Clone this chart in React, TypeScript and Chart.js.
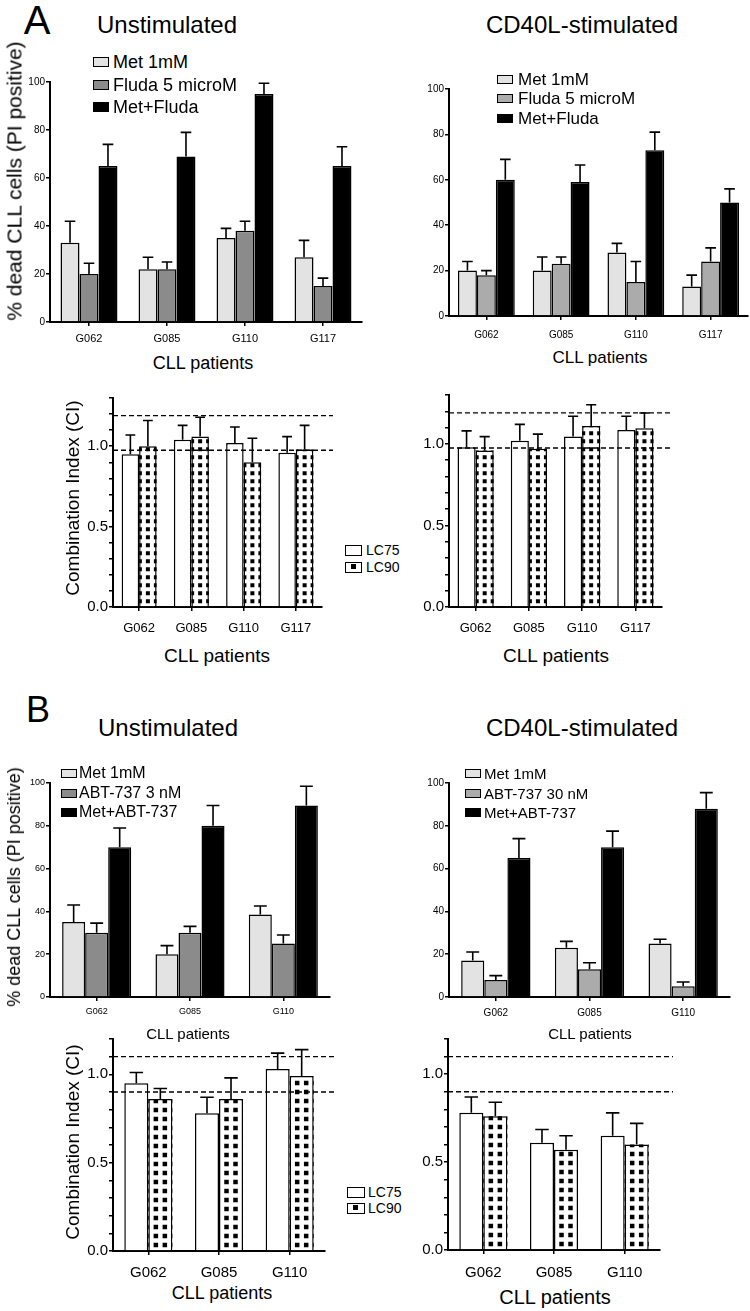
import React, { useEffect, useRef } from "react";
import { Chart, registerables } from "chart.js";
Chart.register(...registerables);

const FONT = "'Liberation Sans', Arial, Helvetica, sans-serif";

// ---------- categories ----------
const patientsA = ["G062", "G085", "G110", "G117"];
const patientsB = ["G062", "G085", "G110"];

// ---------- Panel A : % dead CLL cells, unstimulated ----------
const aUnMet = [33, 22, 35, 27];
const aUnMetErr = [9, 5, 4, 7];
const aUnFluda = [20, 22, 38, 15];
const aUnFludaErr = [4.5, 3, 4, 3.3];
const aUnCombo = [65, 69, 95, 65];
const aUnComboErr = [9, 10, 4.5, 8];

// ---------- Panel A : % dead CLL cells, CD40L-stimulated ----------
const aStMet = [20, 20, 28, 13];
const aStMetErr = [4, 6, 4, 5];
const aStFluda = [18, 23, 15, 24];
const aStFludaErr = [2, 3, 9, 6];
const aStCombo = [60, 59, 73, 50];
const aStComboErr = [9, 7.5, 8, 6];

// ---------- Panel A : combination index ----------
const aUnLC75 = [0.95, 1.04, 1.02, 0.96];
const aUnLC75Err = [0.12, 0.09, 0.1, 0.1];
const aUnLC90 = [1.0, 1.06, 0.9, 0.98];
const aUnLC90Err = [0.16, 0.12, 0.15, 0.15];
const aStLC75 = [0.98, 1.02, 1.045, 1.085];
const aStLC75Err = [0.1, 0.1, 0.125, 0.085];
const aStLC90 = [0.96, 0.97, 1.11, 1.096];
const aStLC90Err = [0.085, 0.09, 0.13, 0.094];
const aRefLines = [0.975, 1.19];

// ---------- Panel B : % dead CLL cells ----------
const bUnMet = [35, 20, 38.5];
const bUnMetErr = [8, 4, 4];
const bUnAbt = [30, 30, 25];
const bUnAbtErr = [4.5, 3, 4];
const bUnCombo = [70, 80, 89.5];
const bUnComboErr = [9, 9.5, 9];
const bStMet = [17, 23, 25];
const bStMetErr = [4, 3, 2];
const bStAbt = [8, 13, 5];
const bStAbtErr = [2, 3, 2];
const bStCombo = [65, 70, 88];
const bStComboErr = [9, 7.5, 7.5];

// ---------- Panel B : combination index ----------
const bUnLC75 = [0.95, 0.78, 1.03];
const bUnLC75Err = [0.06, 0.09, 0.09];
const bUnLC90 = [0.86, 0.86, 0.99];
const bUnLC90Err = [0.06, 0.12, 0.15];
const bStLC75 = [0.78, 0.61, 0.65];
const bStLC75Err = [0.09, 0.075, 0.13];
const bStLC90 = [0.76, 0.57, 0.6];
const bStLC90Err = [0.08, 0.08, 0.12];
const bRefLines = [0.9, 1.1];

// ---------- tick labels ----------
const pctStep = 20;
const ciMinorStep = 0.1;
const ciTickLabels = [0, 0.5, 1.0];

const LIGHT = "#e3e3e3";
const DARK_A = "#8b8b8b";
const MID_A = "#ababab";

type Series = { data: number[]; err: number[]; fill: string; dotted?: boolean };
type Dots = { period: number; size: number; pair: boolean };
type PanelProps = {
  plot: { L: number; T: number; R: number; B: number };
  m: { l: number; t: number; r: number; b: number };
  labels: string[];
  series: Series[];
  yMax: number;
  ci?: boolean;
  yFont: number;
  xFont: number;
  xPad: number;
  catPct: number;
  refLines?: number[];
  refExt?: number;
  dots?: Dots;
};

function BarPanel(p: PanelProps) {
  const ref = useRef<HTMLCanvasElement>(null);
  const { L, T, R, B } = p.plot;
  const { l, t, r, b } = p.m;
  const w = R - L + l + r;
  const h = B - T + t + b;
  useEffect(() => {
    const canvas = ref.current!;
    const overlay = {
      id: "overlay",
      afterDatasetsDraw(chart: any) {
        const ctx = chart.ctx;
        const ys = chart.scales.y;
        const area = chart.chartArea;
        p.series.forEach((s, di) => {
          const meta = chart.getDatasetMeta(di);
          meta.data.forEach((bar: any, i: number) => {
            const { x, y, base, width } = bar.getProps(["x", "y", "base", "width"], true);
            const left = x - width / 2;
            const right = x + width / 2;
            if (s.dotted && p.dots) {
              const { period, size, pair } = p.dots;
              ctx.save();
              ctx.beginPath();
              ctx.rect(left, y, width, base - y);
              ctx.clip();
              ctx.fillStyle = "#000";
              let x0 = x - size / 2 - (pair ? period / 2 : 0);
              while (x0 > left - size) x0 -= period;
              for (let yy = base - 3 - size; yy > y - size; yy -= period) {
                for (let xx = x0; xx < right; xx += period) ctx.fillRect(xx, yy, size, size);
              }
              ctx.restore();
            }
            const cap = ys.getPixelForValue(s.data[i] + s.err[i]);
            ctx.save();
            ctx.strokeStyle = "#000";
            ctx.lineWidth = 1.6;
            ctx.beginPath();
            ctx.moveTo(x, y);
            ctx.lineTo(x, cap);
            const cw = width * 0.28;
            ctx.moveTo(x - cw, cap);
            ctx.lineTo(x + cw, cap);
            ctx.stroke();
            ctx.restore();
          });
        });
        if (p.refLines) {
          ctx.save();
          ctx.setLineDash([5, 3]);
          ctx.lineWidth = 1.3;
          ctx.strokeStyle = "#000";
          p.refLines.forEach((v) => {
            const yy = ys.getPixelForValue(v);
            ctx.beginPath();
            ctx.moveTo(area.left, yy);
            ctx.lineTo(area.right + (p.refExt || 0), yy);
            ctx.stroke();
          });
          ctx.restore();
        }
      },
    };
    const chart = new Chart(canvas, {
      type: "bar",
      data: {
        labels: p.labels,
        datasets: p.series.map((s) => ({
          data: s.data,
          backgroundColor: s.dotted ? "#fff" : s.fill,
          borderColor: "#000",
          borderWidth: 1.5,
          barPercentage: 1,
          categoryPercentage: p.catPct,
        })),
      },
      options: {
        responsive: false,
        animation: false,
        devicePixelRatio: 1,
        layout: { padding: { top: t, right: r, left: 0, bottom: 0 } },
        plugins: { legend: { display: false }, tooltip: { enabled: false }, title: { display: false } },
        scales: {
          x: {
            type: "category",
            offset: true,
            afterFit: (s: any) => {
              s.height = b;
            },
            grid: { display: true, offset: false, drawOnChartArea: false, drawTicks: true, tickLength: 4, color: "#000", lineWidth: 1.5 },
            border: { display: true, color: "#000", width: 2 },
            ticks: { color: "#000", font: { family: FONT, size: p.xFont }, padding: p.xPad, autoSkip: false, maxRotation: 0 },
          },
          y: {
            min: 0,
            max: p.yMax,
            afterFit: (s: any) => {
              s.width = l;
            },
            grid: { display: true, drawOnChartArea: false, drawTicks: true, tickLength: 4, color: "#000", lineWidth: 1.5 },
            border: { display: true, color: "#000", width: 2 },
            ticks: {
              stepSize: p.ci ? ciMinorStep : pctStep,
              autoSkip: false,
              color: "#000",
              padding: 1,
              font: { family: FONT, size: p.yFont },
              callback: (v: any) => {
                const n = Number(v);
                if (!p.ci) return String(Math.round(n));
                return ciTickLabels.some((tv) => Math.abs(tv - n) < 1e-6) ? n.toFixed(1) : "";
              },
            },
          },
        },
      },
      plugins: [overlay],
    } as any);
    return () => chart.destroy();
  }, []);
  return (
    <canvas
      ref={ref}
      width={w}
      height={h}
      style={{ position: "absolute", left: L - l, top: T - t, width: w, height: h }}
    />
  );
}

function Txt(props: { x: number; y: number; s: number; children: any; align?: "center" | "left"; rot?: boolean }) {
  const tx = props.align === "left" ? "0" : "-50%";
  return (
    <div
      style={{
        position: "absolute",
        left: props.x,
        top: props.y,
        fontSize: props.s,
        lineHeight: 1,
        whiteSpace: "nowrap",
        transform: `translate(${tx}, -50%)${props.rot ? " rotate(-90deg)" : ""}`,
      }}
    >
      {props.children}
    </div>
  );
}

function LegendItem(props: { x: number; y: number; bw: number; bh: number; fill: string; dotted?: boolean; tx: number; s: number; text: string }) {
  return (
    <>
      <div
        style={{
          position: "absolute",
          left: props.x,
          top: props.y - props.bh / 2,
          width: props.bw,
          height: props.bh,
          boxSizing: "border-box",
          border: "1.8px solid #000",
          background: props.fill,
        }}
      >
        {props.dotted ? (
          <div style={{ position: "absolute", left: props.bw / 2 - 4, top: props.bh / 2 - 4, width: 5, height: 5, background: "#000" }} />
        ) : null}
      </div>
      <Txt x={props.tx} y={props.y} s={props.s} align="left">
        {props.text}
      </Txt>
    </>
  );
}

const dotsA: Dots = { period: 8, size: 4, pair: false };
const dotsB: Dots = { period: 9, size: 4.5, pair: true };

export default function App() {
  return (
    <div
      style={{
        position: "absolute",
        left: 0,
        top: 0,
        width: 750,
        height: 1311,
        overflow: "hidden",
        background: "#fff",
        fontFamily: FONT,
        color: "#000",
      }}
    >
      {/* ---------- A, unstimulated ---------- */}
      <BarPanel
        plot={{ L: 50, T: 82, R: 362, B: 322 }}
        m={{ l: 40, t: 10, r: 6, b: 30 }}
        labels={patientsA}
        series={[
          { data: aUnMet, err: aUnMetErr, fill: LIGHT },
          { data: aUnFluda, err: aUnFludaErr, fill: DARK_A },
          { data: aUnCombo, err: aUnComboErr, fill: "#000" },
        ]}
        yMax={100}
        yFont={10}
        xFont={11}
        xPad={6}
        catPct={0.73}
      />
      {/* ---------- A, CD40L ---------- */}
      <BarPanel
        plot={{ L: 449, T: 89, R: 748, B: 316 }}
        m={{ l: 40, t: 10, r: 6, b: 30 }}
        labels={patientsA}
        series={[
          { data: aStMet, err: aStMetErr, fill: LIGHT },
          { data: aStFluda, err: aStFludaErr, fill: MID_A },
          { data: aStCombo, err: aStComboErr, fill: "#000" },
        ]}
        yMax={100}
        yFont={10}
        xFont={10}
        xPad={9}
        catPct={0.76}
      />
      {/* ---------- A, CI unstimulated ---------- */}
      <BarPanel
        plot={{ L: 113, T: 398, R: 322, B: 607 }}
        m={{ l: 35, t: 10, r: 14, b: 32 }}
        labels={patientsA}
        series={[
          { data: aUnLC75, err: aUnLC75Err, fill: "#fff" },
          { data: aUnLC90, err: aUnLC90Err, fill: "#fff", dotted: true },
        ]}
        yMax={1.3}
        ci
        yFont={15}
        xFont={13}
        xPad={10}
        catPct={0.67}
        refLines={aRefLines}
        refExt={11}
        dots={dotsA}
      />
      {/* ---------- A, CI CD40L ---------- */}
      <BarPanel
        plot={{ L: 449, T: 395, R: 662, B: 607 }}
        m={{ l: 35, t: 10, r: 14, b: 32 }}
        labels={patientsA}
        series={[
          { data: aStLC75, err: aStLC75Err, fill: "#fff" },
          { data: aStLC90, err: aStLC90Err, fill: "#fff", dotted: true },
        ]}
        yMax={1.3}
        ci
        yFont={15}
        xFont={13}
        xPad={10}
        catPct={0.68}
        refLines={aRefLines}
        refExt={10}
        dots={dotsA}
      />
      {/* ---------- B, unstimulated ---------- */}
      <BarPanel
        plot={{ L: 50, T: 783, R: 330, B: 997 }}
        m={{ l: 40, t: 10, r: 6, b: 24 }}
        labels={patientsB}
        series={[
          { data: bUnMet, err: bUnMetErr, fill: LIGHT },
          { data: bUnAbt, err: bUnAbtErr, fill: DARK_A },
          { data: bUnCombo, err: bUnComboErr, fill: "#000" },
        ]}
        yMax={100}
        yFont={9}
        xFont={9}
        xPad={5}
        catPct={0.74}
      />
      {/* ---------- B, CD40L ---------- */}
      <BarPanel
        plot={{ L: 449, T: 783, R: 730, B: 997 }}
        m={{ l: 40, t: 10, r: 6, b: 24 }}
        labels={patientsB}
        series={[
          { data: bStMet, err: bStMetErr, fill: LIGHT },
          { data: bStAbt, err: bStAbtErr, fill: MID_A },
          { data: bStCombo, err: bStComboErr, fill: "#000" },
        ]}
        yMax={100}
        yFont={10}
        xFont={10}
        xPad={6}
        catPct={0.74}
      />
      {/* ---------- B, CI unstimulated ---------- */}
      <BarPanel
        plot={{ L: 113, T: 1039, R: 325, B: 1251 }}
        m={{ l: 35, t: 10, r: 14, b: 32 }}
        labels={patientsB}
        series={[
          { data: bUnLC75, err: bUnLC75Err, fill: "#fff" },
          { data: bUnLC90, err: bUnLC90Err, fill: "#fff", dotted: true },
        ]}
        yMax={1.2}
        ci
        yFont={15}
        xFont={15}
        xPad={9}
        catPct={0.68}
        refLines={bRefLines}
        refExt={10}
        dots={dotsB}
      />
      {/* ---------- B, CI CD40L ---------- */}
      <BarPanel
        plot={{ L: 448, T: 1039, R: 660, B: 1250 }}
        m={{ l: 35, t: 10, r: 14, b: 32 }}
        labels={patientsB}
        series={[
          { data: bStLC75, err: bStLC75Err, fill: "#fff" },
          { data: bStLC90, err: bStLC90Err, fill: "#fff", dotted: true },
        ]}
        yMax={1.2}
        ci
        yFont={15}
        xFont={15}
        xPad={10}
        catPct={0.68}
        refLines={bRefLines}
        refExt={13}
        dots={dotsB}
      />

      {/* ---------- texts ---------- */}
      <Txt x={37} y={20} s={40}>A</Txt>
      <Txt x={38} y={710} s={36}>B</Txt>

      <Txt x={167} y={25} s={24}>Unstimulated</Txt>
      <Txt x={582} y={25} s={24}>CD40L-stimulated</Txt>
      <Txt x={168} y={728} s={24}>Unstimulated</Txt>
      <Txt x={582} y={728} s={24}>CD40L-stimulated</Txt>

      <Txt x={14} y={181} s={21} rot>% dead CLL cells (PI positive)</Txt>
      <Txt x={14} y={887} s={18} rot>% dead CLL cells (PI positive)</Txt>
      <Txt x={72} y={498} s={19} rot>Combination Index (CI)</Txt>
      <Txt x={72} y={1142} s={19} rot>Combination Index (CI)</Txt>

      <Txt x={203} y={363} s={18}>CLL patients</Txt>
      <Txt x={600} y={357} s={17}>CLL patients</Txt>
      <Txt x={217} y={655} s={19}>CLL patients</Txt>
      <Txt x={556} y={655} s={19}>CLL patients</Txt>
      <Txt x={188} y={1033} s={15}>CLL patients</Txt>
      <Txt x={590} y={1033} s={15}>CLL patients</Txt>
      <Txt x={222} y={1293} s={18}>CLL patients</Txt>
      <Txt x={555} y={1297} s={20}>CLL patients</Txt>

      {/* legends */}
      <LegendItem x={93} y={62} bw={16} bh={10} fill={LIGHT} tx={113} s={18} text="Met 1mM" />
      <LegendItem x={93} y={85} bw={16} bh={10} fill={DARK_A} tx={113} s={18} text="Fluda 5 microM" />
      <LegendItem x={93} y={107} bw={16} bh={10} fill="#000" tx={113} s={18} text="Met+Fluda" />

      <LegendItem x={497} y={79} bw={16} bh={9} fill={LIGHT} tx={518} s={17} text="Met 1mM" />
      <LegendItem x={497} y={98} bw={16} bh={9} fill={MID_A} tx={518} s={17} text="Fluda 5 microM" />
      <LegendItem x={497} y={118} bw={16} bh={9} fill="#000" tx={518} s={17} text="Met+Fluda" />

      <LegendItem x={345} y={550} bw={17} bh={11} fill="#fff" tx={366} s={14} text="LC75" />
      <LegendItem x={345} y={567} bw={17} bh={11} fill="#fff" dotted tx={366} s={14} text="LC90" />

      <LegendItem x={61} y={773} bw={16} bh={9} fill={LIGHT} tx={79} s={16} text="Met 1mM" />
      <LegendItem x={61} y={793} bw={16} bh={9} fill={DARK_A} tx={79} s={16} text="ABT-737 3 nM" />
      <LegendItem x={61} y={812} bw={16} bh={9} fill="#000" tx={79} s={16} text="Met+ABT-737" />

      <LegendItem x={465} y={773} bw={16} bh={9} fill={LIGHT} tx={484} s={15} text="Met 1mM" />
      <LegendItem x={465} y={793} bw={16} bh={9} fill={MID_A} tx={484} s={15} text="ABT-737 30 nM" />
      <LegendItem x={465} y={812} bw={16} bh={9} fill="#000" tx={484} s={15} text="Met+ABT-737" />

      <LegendItem x={347} y={1192} bw={18} bh={11} fill="#fff" tx={368} s={14} text="LC75" />
      <LegendItem x={347} y={1208} bw={18} bh={11} fill="#fff" dotted tx={368} s={14} text="LC90" />
    </div>
  );
}
